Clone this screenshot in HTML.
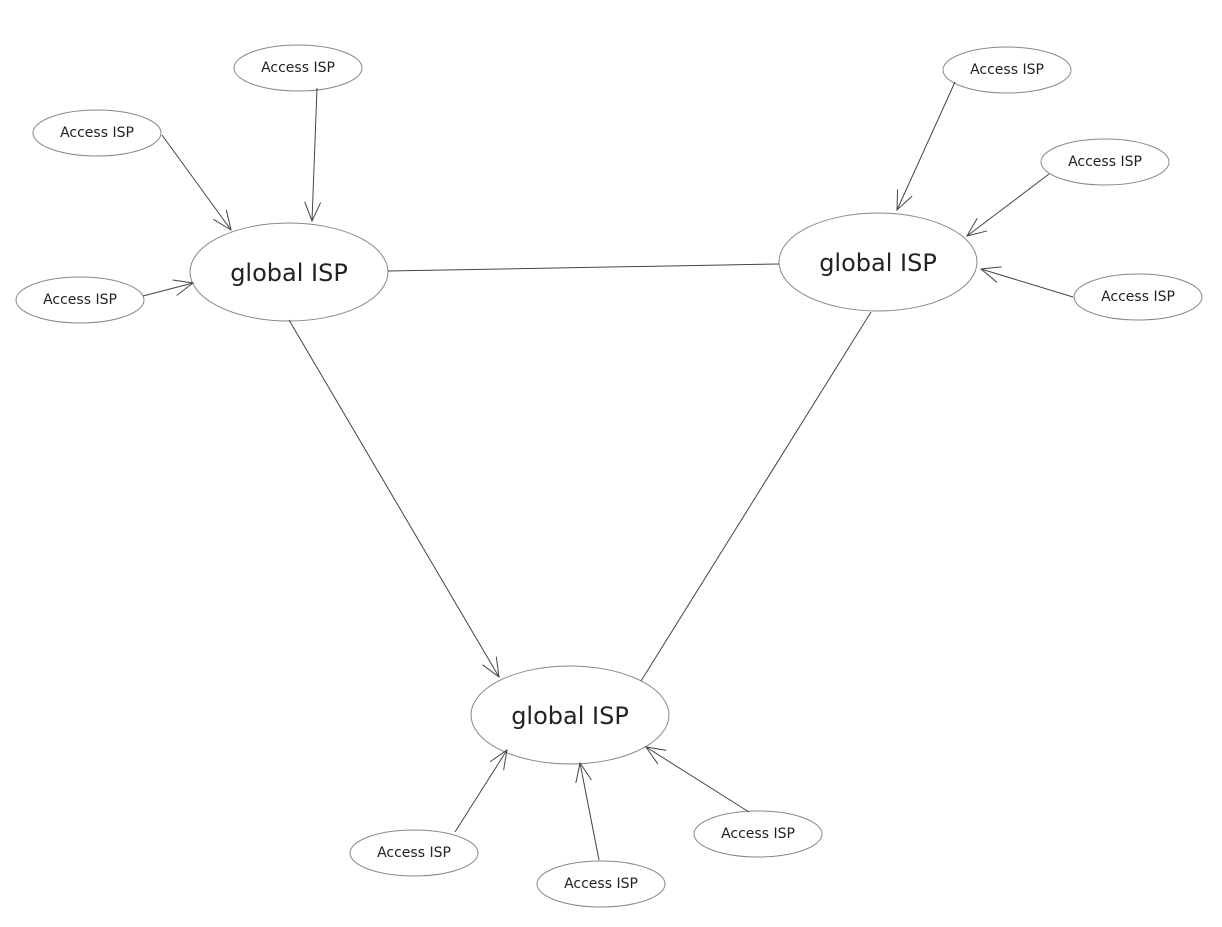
<!DOCTYPE html>
<html><head><style>
html,body{margin:0;padding:0;background:#fff;}
svg{display:block;}
text{font-family:"DejaVu Sans","Liberation Sans",sans-serif;fill:#222;text-anchor:middle;dominant-baseline:central;}
</style></head><body>
<svg width="1222" height="927" viewBox="0 0 1222 927">
<defs>
<marker id="a" viewBox="0 0 20 20" refX="19" refY="10" markerWidth="20" markerHeight="20" markerUnits="userSpaceOnUse" orient="auto">
<path d="M0,2 L19,10 L0,18" fill="none" stroke="#444" stroke-width="1"/>
</marker>
</defs>
<g fill="none" stroke="#888" stroke-width="1">
<ellipse cx="289" cy="272" rx="99" ry="49"/>
<ellipse cx="878" cy="262" rx="99" ry="49"/>
<ellipse cx="570" cy="715" rx="99" ry="49"/>
<ellipse cx="298" cy="68" rx="64" ry="23"/>
<ellipse cx="97" cy="133" rx="64" ry="23"/>
<ellipse cx="80" cy="300" rx="64" ry="23"/>
<ellipse cx="1007" cy="70" rx="64" ry="23"/>
<ellipse cx="1105" cy="162" rx="64" ry="23"/>
<ellipse cx="1138" cy="297" rx="64" ry="23"/>
<ellipse cx="414" cy="853" rx="64" ry="23"/>
<ellipse cx="601" cy="884" rx="64" ry="23"/>
<ellipse cx="758" cy="834" rx="64" ry="23"/>
</g>
<g stroke="#444" stroke-width="1" fill="none">
<line x1="162" y1="135" x2="231" y2="230" marker-end="url(#a)"/>
<line x1="317" y1="88" x2="312" y2="221" marker-end="url(#a)"/>
<line x1="143" y1="296" x2="193" y2="283" marker-end="url(#a)"/>
<line x1="289" y1="320" x2="499" y2="677" marker-end="url(#a)"/>
<line x1="955" y1="82" x2="897" y2="210" marker-end="url(#a)"/>
<line x1="1049" y1="174" x2="967" y2="236" marker-end="url(#a)"/>
<line x1="1073" y1="297" x2="981" y2="269" marker-end="url(#a)"/>
<line x1="455" y1="832" x2="507" y2="750" marker-end="url(#a)"/>
<line x1="599" y1="860" x2="580" y2="763" marker-end="url(#a)"/>
<line x1="749" y1="812" x2="646" y2="747" marker-end="url(#a)"/>
<line x1="388" y1="271" x2="779" y2="264"/>
<line x1="871" y1="312" x2="641" y2="681"/>
</g>
<g font-size="24">
<text x="289" y="273">global ISP</text>
<text x="878" y="263">global ISP</text>
<text x="570" y="716">global ISP</text>
</g>
<g font-size="14">
<text x="298" y="68">Access ISP</text>
<text x="97" y="133">Access ISP</text>
<text x="80" y="300">Access ISP</text>
<text x="1007" y="70">Access ISP</text>
<text x="1105" y="162">Access ISP</text>
<text x="1138" y="297">Access ISP</text>
<text x="414" y="853">Access ISP</text>
<text x="601" y="884">Access ISP</text>
<text x="758" y="834">Access ISP</text>
</g>
</svg>
</body></html>
